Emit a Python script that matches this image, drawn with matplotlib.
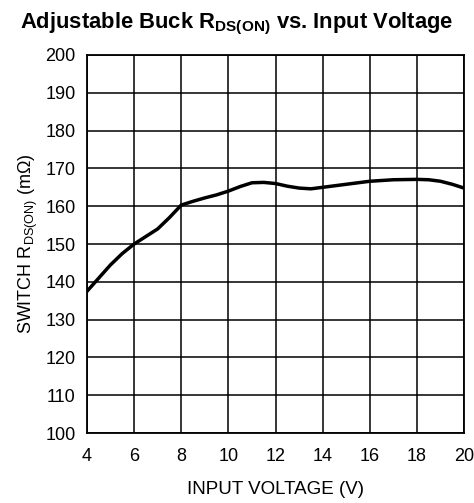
import matplotlib
matplotlib.use("Agg")
import matplotlib.pyplot as plt

plt.rcParams['font.family'] = ['Liberation Sans', 'DejaVu Sans']
plt.rcParams['mathtext.fontset'] = 'custom'
plt.rcParams['mathtext.rm'] = 'Liberation Sans'
plt.rcParams['mathtext.it'] = 'Liberation Sans:italic'
plt.rcParams['mathtext.bf'] = 'Liberation Sans:bold'

voltage = [4, 4.5, 5, 5.5, 6, 6.5, 7, 7.5, 8, 8.5, 9, 9.5, 10, 10.5, 11, 11.5,
           12, 12.5, 13, 13.5, 14, 15, 16, 17, 18, 18.5, 19, 19.5, 20]
rdson = [137.5, 141, 144.5, 147.5, 150, 152, 154, 157, 160.3, 161.3, 162.2, 163,
         164, 165.2, 166.2, 166.3, 166, 165.3, 164.8, 164.6, 165, 165.8, 166.6,
         167, 167.1, 167, 166.6, 165.8, 164.8]
xticks = [4, 6, 8, 10, 12, 14, 16, 18, 20]
yticks = [100, 110, 120, 130, 140, 150, 160, 170, 180, 190, 200]

fig = plt.figure(figsize=(4.74, 5.03), dpi=100)
ax = fig.add_axes([0.1835, 0.139, 0.7955, 0.7517])
ax.plot(voltage, rdson, color='black', lw=2.5, solid_capstyle='round', zorder=3)
ax.set_xlim(4, 20)
ax.set_ylim(100, 200)
ax.set_xticks(xticks)
ax.set_yticks(yticks)
ax.grid(True, color='black', lw=1.1)
for s in ax.spines.values():
    s.set_linewidth(1.3)
ax.tick_params(length=0, labelsize=13)
ax.tick_params(axis='x', pad=11)
ax.tick_params(axis='y', pad=8)
ax.set_xlabel('INPUT VOLTAGE (V)', fontsize=13.5, labelpad=11)
ax.set_ylabel('SWITCH R$_{\\mathrm{DS(ON)}}$ (mΩ)', fontsize=13, labelpad=4)
fig.suptitle('Adjustable Buck R$_{\\mathbf{DS(ON)}}$ vs. Input Voltage',
             fontsize=15.8, fontweight='bold', x=0.5, y=0.978)
fig.savefig('out.png', dpi=100)
